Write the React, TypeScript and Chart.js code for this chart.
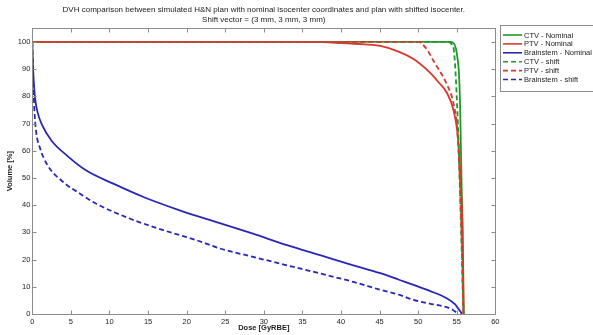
import React, { useEffect, useRef } from 'react';
import { Chart, registerables } from 'chart.js';

Chart.register(...registerables);

// ---------- text ----------
const titleLines = [
  'DVH comparison between simulated H&N plan with nominal isocenter coordinates and plan with shifted isocenter.',
  'Shift vector = (3 mm, 3 mm, 3 mm)',
];
const xTitle = 'Dose [GyRBE]';
const yTitle = 'Volume [%]';
const xTicks = [0, 5, 10, 15, 20, 25, 30, 35, 40, 45, 50, 55, 60];
const yTicks = [0, 10, 20, 30, 40, 50, 60, 70, 80, 90, 100];

// ---------- series ----------
const ctvNomDose = [0, 54.2, 54.6, 54.9, 55.1, 55.3, 55.45, 55.55, 55.65, 55.75, 55.83, 55.9];
const ctvNomVol = [100, 100, 99.5, 97.5, 94, 88, 75, 60, 45, 28, 12, 0];

const ptvNomDose = [0, 36, 40, 43, 45.1, 47.2, 49.4, 51.5, 52.7, 53.7, 54.6, 55.2, 55.5, 55.77, 55.85, 55.9];
const ptvNomVol = [100, 100, 99.6, 99.1, 98.5, 96.7, 93.7, 88.8, 85, 81.4, 74.7, 63.7, 49.1, 30.8, 15, 0];

const brainNomDose = [0, 0.1, 0.35, 0.7, 1.2, 2.5, 4.5, 7, 10.5, 14.4, 19.1, 24.3, 28.6, 33, 37.3, 41.6, 45.1, 47.6, 49.4, 51.5, 53.7, 54.8, 55.2, 55.5, 55.65];
const brainNomVol = [100, 90, 79.6, 74, 69.9, 63.7, 58.2, 52.7, 47.9, 43, 38.1, 33.4, 29.5, 25.3, 21.6, 17.9, 15, 12.5, 10.7, 8.5, 5.8, 3.5, 2, 0.8, 0];

const ctvShiftDose = [0, 53.8, 54.3, 54.6, 54.8, 55.0, 55.2, 55.35, 55.5, 55.65, 55.78, 55.9];
const ctvShiftVol = [100, 100, 99.3, 97.5, 91, 80, 66, 52, 38, 24, 10, 0];

const ptvShiftDose = [0, 50.1, 50.6, 51.2, 52, 52.6, 53.7, 54.6, 55.07, 55.4, 55.6, 55.75, 55.85];
const ptvShiftVol = [100, 100, 99, 97, 93, 90.2, 84.5, 77.2, 67.4, 49.1, 30.8, 12, 0];

const brainShiftDose = [0, 0.1, 0.25, 0.48, 1, 1.86, 4, 6.2, 8.3, 12.7, 17, 21.3, 24.3, 28.6, 33, 37.3, 41.6, 45.1, 47.6, 49.4, 51.5, 53.7, 54.5, 54.95, 55.25];
const brainShiftVol = [100, 88, 76, 67.4, 61, 55.2, 48.5, 44.2, 40.5, 35, 30.8, 27.1, 24.1, 21, 17.9, 14.9, 11.8, 8.9, 7, 5.2, 3.8, 2.5, 1.5, 0.6, 0];

const seriesLabels = ['CTV - Nominal', 'PTV - Nominal', 'Brainstem - Nominal', 'CTV - shift', 'PTV - shift', 'Brainstem - shift'];
const seriesColors = ['#1f9a28', '#d9382f', '#2828b8', '#1f9a28', '#d9382f', '#2828b8'];
const seriesDashed = [false, false, false, true, true, true];
const seriesDose = [ctvNomDose, ptvNomDose, brainNomDose, ctvShiftDose, ptvShiftDose, brainShiftDose];
const seriesVol = [ctvNomVol, ptvNomVol, brainNomVol, ctvShiftVol, ptvShiftVol, brainShiftVol];

const FONT = "'Liberation Sans', Arial, sans-serif";
const FRAME = '#8c8c8c';
const TEXT = '#222';

const framePlugin = {
  id: 'matlabFrame',
  afterDatasetsDraw(chart: any) {
    const { ctx, chartArea } = chart;
    const { left, right, top, bottom } = chartArea;
    const xs = chart.scales.x;
    const ys = chart.scales.y;
    ctx.save();
    ctx.strokeStyle = FRAME;
    ctx.lineWidth = 1;
    ctx.setLineDash([]);
    const L = Math.round(left) + 0.5, R = Math.round(right) + 0.5;
    const T = Math.round(top) + 0.5, B = Math.round(bottom) + 0.5;
    ctx.strokeRect(L, T, R - L, B - T);
    const tl = 4;
    ctx.beginPath();
    xTicks.forEach((v) => {
      const px = Math.round(xs.getPixelForValue(v)) + 0.5;
      ctx.moveTo(px, B); ctx.lineTo(px, B - tl);
      ctx.moveTo(px, T); ctx.lineTo(px, T + tl);
    });
    yTicks.forEach((v) => {
      const py = Math.round(ys.getPixelForValue(v)) + 0.5;
      ctx.moveTo(L, py); ctx.lineTo(L + tl, py);
      ctx.moveTo(R, py); ctx.lineTo(R - tl, py);
    });
    ctx.stroke();
    ctx.restore();
  },
  afterDraw(chart: any) {
    const { ctx, chartArea } = chart;
    ctx.save();
    // title
    ctx.fillStyle = TEXT;
    ctx.font = `8px ${FONT}`;
    ctx.textAlign = 'center';
    ctx.textBaseline = 'middle';
    const cx = (chartArea.left + chartArea.right) / 2;
    titleLines.forEach((t, i) => ctx.fillText(t, cx, 10 + i * 9.5));
    // legend
    ctx.font = `7.5px ${FONT}`;
    ctx.strokeStyle = FRAME;
    ctx.lineWidth = 1;
    ctx.strokeRect(500.5, 25.5, 110, 66);
    ctx.textAlign = 'left';
    chart.data.datasets.forEach((ds: any, i: number) => {
      const y = 35 + i * 8.9;
      ctx.strokeStyle = ds.borderColor;
      ctx.lineWidth = 1.6;
      ctx.setLineDash(ds.borderDash || []);
      ctx.beginPath();
      ctx.moveTo(503, y);
      ctx.lineTo(522, y);
      ctx.stroke();
      ctx.setLineDash([]);
      ctx.fillStyle = TEXT;
      ctx.fillText(ds.label, 524, y + 0.5);
    });
    ctx.restore();
  },
};

export default function App() {
  const ref = useRef<HTMLCanvasElement>(null);
  useEffect(() => {
    const datasets = seriesLabels.map((label, i) => ({
      label,
      data: seriesDose[i].map((d, j) => ({ x: d, y: seriesVol[i][j] })),
      borderColor: seriesColors[i],
      backgroundColor: seriesColors[i],
      borderWidth: 1.8,
      borderDash: seriesDashed[i] ? [5, 3] : [],
      pointRadius: 0,
      cubicInterpolationMode: 'monotone',
      fill: false,
      order: seriesLabels.length - i,
    }));
    const chart = new Chart(ref.current as HTMLCanvasElement, {
      type: 'line',
      data: { datasets },
      options: {
        responsive: false,
        animation: false,
        devicePixelRatio: 1,
        layout: { padding: { top: 28.3, right: 97.7, left: 0, bottom: 0 } },
        plugins: {
          legend: { display: false },
          title: { display: false },
          tooltip: { enabled: false },
        },
        scales: {
          x: {
            type: 'linear',
            min: 0,
            max: 60,
            afterBuildTicks: (s: any) => { s.ticks = xTicks.map((v) => ({ value: v })); },
            afterFit: (s: any) => { s.height = 21; },
            grid: { display: false, drawTicks: false, tickLength: 0 },
            border: { display: false },
            ticks: { font: { family: FONT, size: 7.5 }, color: TEXT, padding: 3, maxRotation: 0, autoSkip: false },
            title: { display: true, text: xTitle, color: TEXT, font: { family: FONT, size: 7.5, weight: 'bold' }, padding: { top: 0, bottom: 2.5 } },
          },
          y: {
            type: 'linear',
            min: 0,
            max: 105,
            afterBuildTicks: (s: any) => { s.ticks = yTicks.map((v) => ({ value: v })); },
            afterFit: (s: any) => { s.width = 32.3; },
            grid: { display: false, drawTicks: false, tickLength: 0 },
            border: { display: false },
            ticks: { font: { family: FONT, size: 7.5 }, color: TEXT, padding: 2, autoSkip: false },
            title: { display: true, text: yTitle, color: TEXT, font: { family: FONT, size: 7.5, weight: 'bold' }, padding: { top: 5.5, bottom: 0 } },
          },
        },
      } as any,
      plugins: [framePlugin],
    });
    return () => chart.destroy();
  }, []);
  return (
    <div style={{ position: 'absolute', left: 0, top: 0, width: 593, height: 335, background: '#fff', overflow: 'hidden' }}>
      <canvas ref={ref} width={593} height={335} style={{ display: 'block' }} />
    </div>
  );
}
